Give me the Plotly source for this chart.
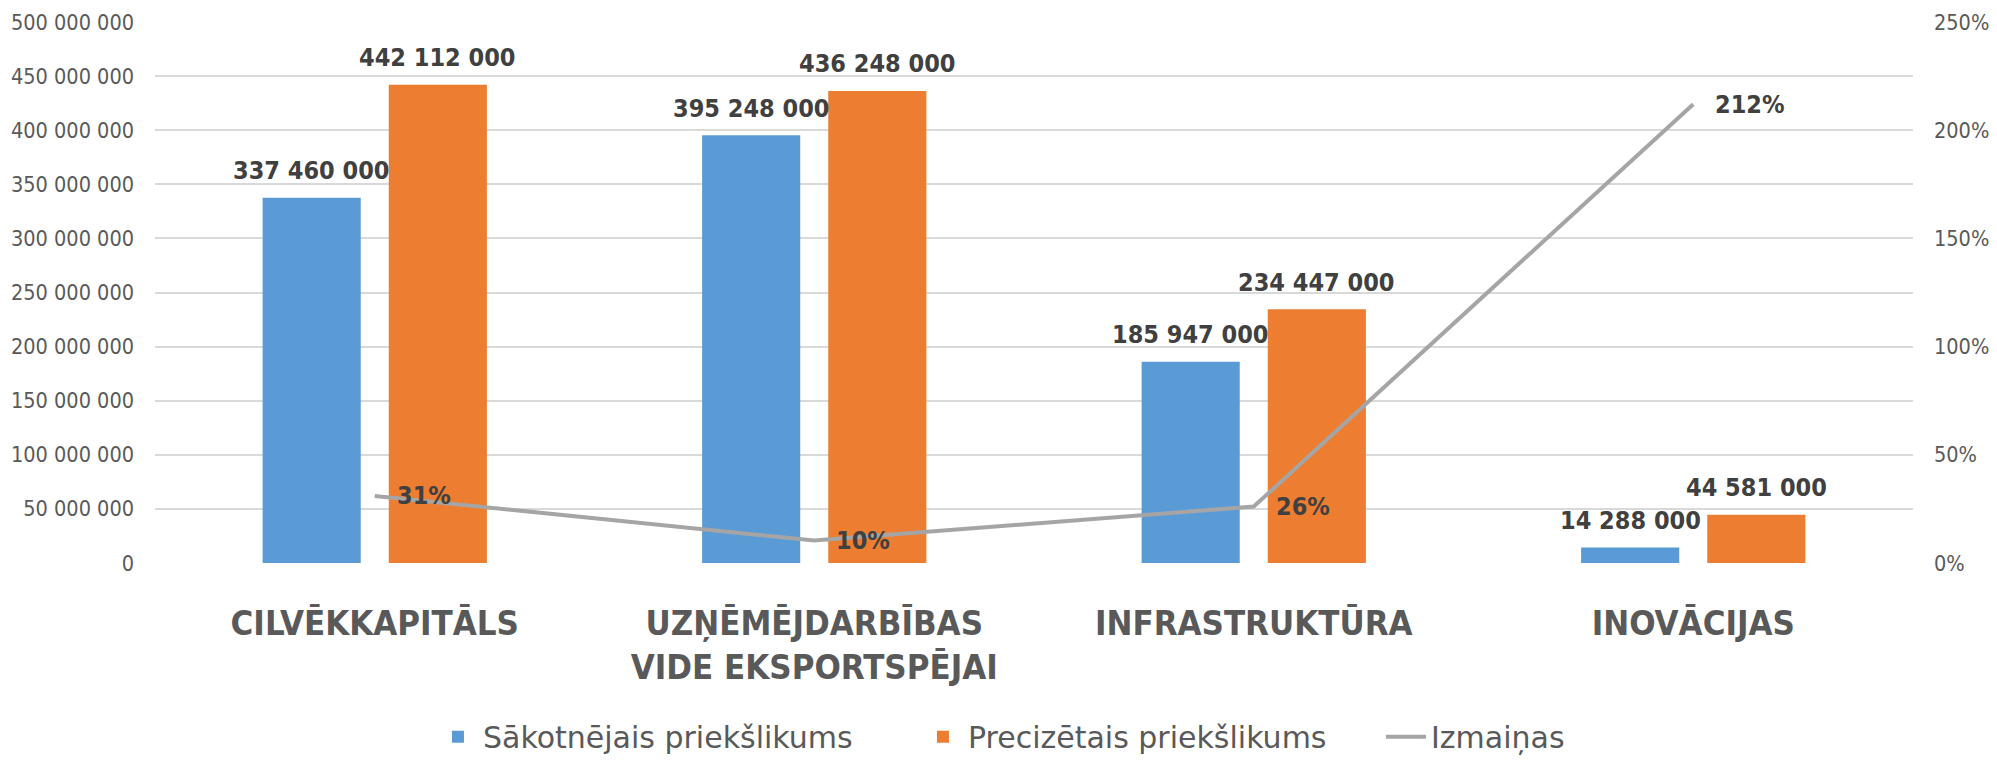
import plotly.graph_objects as go

categories = ["CILVĒKKAPITĀLS", "UZŅĒMĒJDARBĪBAS<br>VIDE EKSPORTSPĒJAI", "INFRASTRUKTŪRA", "INOVĀCIJAS"]
initial = [337460000, 395248000, 185947000, 14288000]
revised = [442112000, 436248000, 234447000, 44581000]
change = [0.3101, 0.1037, 0.2608, 2.1202]
change_labels = ["31%", "10%", "26%", "212%"]

FONT = "DejaVu Sans Condensed, DejaVu Sans, sans-serif"
FONT_WIDE = "DejaVu Sans, sans-serif"
LABEL_COLOR = "#404040"
TICK_COLOR = "#595959"

W, H = 1997, 761
ML, MR, MT, MB = 155, 84, 22, 198
BARGAP, GROUPGAP = 0.426, 0.222
cat_px = (W - ML - MR) / len(categories)
slot_px = cat_px * (1 - BARGAP) / 2
bar_shift = slot_px / 2

fig = go.Figure()
fig.add_trace(go.Bar(
    x=categories, y=initial, name="Sākotnējais priekšlikums",
    marker=dict(color="#5B9BD5", line=dict(width=0)), legendwidth=430,
))
fig.add_trace(go.Bar(
    x=categories, y=revised, name="Precizētais priekšlikums",
    marker=dict(color="#ED7D31", line=dict(width=0)), legendwidth=408,
))
fig.add_trace(go.Scatter(
    x=categories, y=change, name="Izmaiņas", yaxis="y2", mode="lines",
    line=dict(color="#A5A5A5", width=4),
))

lab_font = dict(family=FONT, size=25, color=LABEL_COLOR, weight="bold")


def fmt(v):
    return f"{v:,}".replace(",", " ")


for c, a, b in zip(categories, initial, revised):
    fig.add_annotation(x=c, y=a, text=fmt(a), showarrow=False, xanchor="center",
                       yanchor="middle", xshift=-bar_shift, yshift=27, font=lab_font)
    fig.add_annotation(x=c, y=b, text=fmt(b), showarrow=False, xanchor="center",
                       yanchor="middle", xshift=bar_shift, yshift=27, font=lab_font)

for c, v, t in zip(categories, change, change_labels):
    fig.add_annotation(x=c, y=v, yref="y2", text=t, showarrow=False,
                       xanchor="left", yanchor="middle", xshift=20, font=lab_font)

fig.update_layout(
    width=W, height=H,
    margin=dict(l=ML, r=MR, t=MT, b=MB, autoexpand=False),
    paper_bgcolor="white", plot_bgcolor="white",
    separators=". ",
    barmode="group", bargap=BARGAP, bargroupgap=GROUPGAP,
    font=dict(family=FONT, color=TICK_COLOR),
    showlegend=True,
    legend=dict(orientation="h", xref="container", yref="container",
                x=0.2168, xanchor="left", y=0.066, yanchor="top",
                font=dict(family=FONT_WIDE, size=30, color=TICK_COLOR),
                itemwidth=40),
    xaxis=dict(showgrid=False, showline=False, ticks="", tickangle=0, automargin=False,
               tickfont=dict(family=FONT, size=34.5, color=TICK_COLOR, weight="bold"),
               ticklabelstandoff=36),
    yaxis=dict(range=[0, 500000000], dtick=50000000, tickformat=",d", automargin=False,
               showgrid=True, gridcolor="#D9D9D9", gridwidth=1.5, zeroline=False,
               showline=False, ticks="", ticklabelstandoff=20,
               tickfont=dict(family=FONT, size=21.5, color=TICK_COLOR)),
    yaxis2=dict(range=[0, 2.5], dtick=0.5, tickformat=".0%", overlaying="y", side="right",
                automargin=False,
                showgrid=False, zeroline=False, showline=False, ticks="", ticklabelstandoff=20,
                tickfont=dict(family=FONT, size=21.5, color=TICK_COLOR)),
)

fig.write_html("out.html", config={"displayModeBar": False},
               post_script="document.body.style.margin='0';document.body.style.overflow='hidden';")
